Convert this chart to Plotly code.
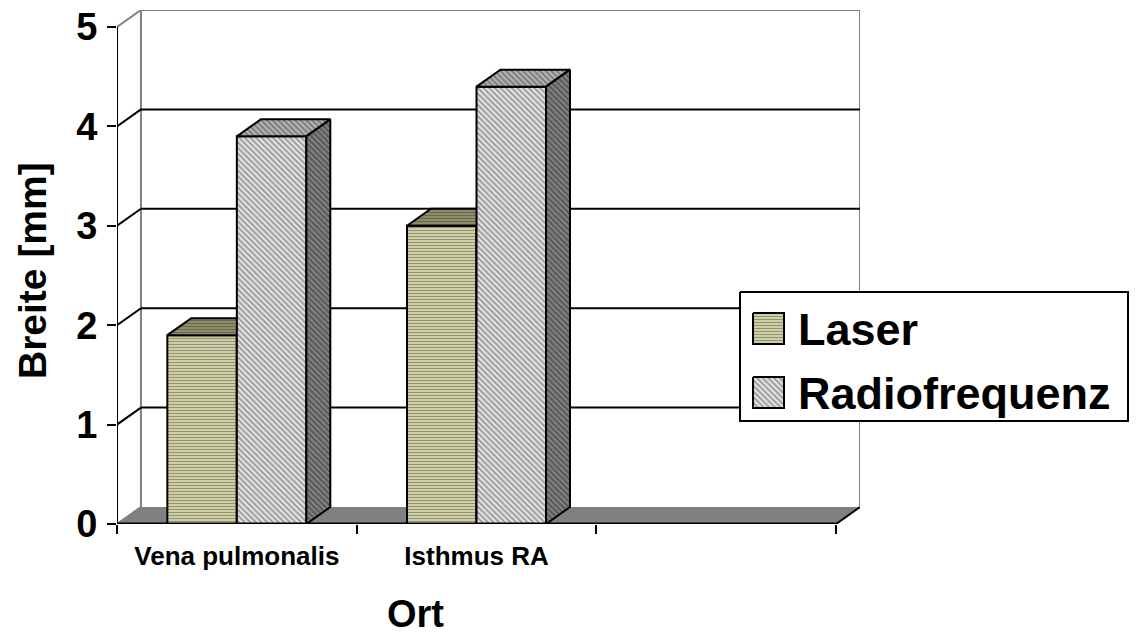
import plotly.graph_objects as go

# ---- data ----
categories = ["Vena pulmonalis", "Isthmus RA", ""]
laser = [1.9, 3.0, None]
radiofrequenz = [3.9, 4.4, None]
y_ticks = [0, 1, 2, 3, 4, 5]

# ---- 3D look (in axis units) ----
DX = 0.10      # depth offset along x
DY = 0.171     # depth offset along y
BAR_W = 0.29   # width of one column
YMAX = 5
NCAT = len(categories)

FONT = "Liberation Sans, Arial, sans-serif"

W, H = 1140, 638
PL, PR, PT, PB = 117, 860, 10, 524  # plot area in pixels

fig = go.Figure()


def poly(xs, ys, pattern, name, xaxis="x", yaxis="y", lw=2):
    fig.add_trace(go.Scatter(
        x=list(xs) + [xs[0]], y=list(ys) + [ys[0]],
        mode="lines", fill="toself",
        fillcolor=pattern["bgcolor"],
        fillpattern=pattern,
        line=dict(color="black", width=lw),
        hoverinfo="skip", showlegend=False, name=name,
        xaxis=xaxis, yaxis=yaxis,
    ))


def pat(shape, bg, fg, size=4, solidity=0.45):
    return dict(shape=shape, bgcolor=bg, fgcolor=fg, size=size,
                solidity=solidity, fillmode="overlay")


styles = {
    "Laser": dict(
        front=pat("-", "#e2e2b8", "#45452c", 3, 0.5),
        top=pat("-", "#a0a078", "#30301c", 3, 0.55),
        side=pat("-", "#8c8c6c", "#303020", 3, 0.55),
    ),
    "Radiofrequenz": dict(
        front=pat("\\", "#e8e8e8", "#505050", 4, 0.5),
        top=pat("\\", "#b8b8b8", "#404040", 4, 0.5),
        side=pat("\\", "#888888", "#282828", 4, 0.55),
    ),
}

series = [("Laser", laser, -BAR_W), ("Radiofrequenz", radiofrequenz, 0.0)]

# ---- walls, floor, gridlines (drawn below the columns) ----
shapes = []
gray = "#808080"
# floor
shapes.append(dict(type="path", xref="x", yref="y", layer="below",
                   path=f"M0,0 L{NCAT},0 L{NCAT + DX},{DY} L{DX},{DY} Z",
                   fillcolor=gray, line=dict(width=0)))
shapes.append(dict(type="line", xref="x", yref="y", layer="below",
                   x0=NCAT, y0=0, x1=NCAT + DX, y1=DY,
                   line=dict(color="black", width=2)))
# back wall frame
shapes.append(dict(type="line", xref="x", yref="y", layer="below",
                   x0=DX, y0=DY, x1=DX, y1=YMAX + DY, line=dict(color=gray, width=2)))
shapes.append(dict(type="line", xref="x", yref="y", layer="below",
                   x0=DX, y0=YMAX + DY, x1=NCAT + DX, y1=YMAX + DY, line=dict(color=gray, width=2)))
shapes.append(dict(type="line", xref="x", yref="y", layer="below",
                   x0=NCAT + DX, y0=DY, x1=NCAT + DX, y1=YMAX + DY, line=dict(color=gray, width=2)))
# gridlines on back wall + side wall diagonals
for k in y_ticks[1:]:
    col = gray if k == YMAX else "black"
    if k < YMAX:
        shapes.append(dict(type="line", xref="x", yref="y", layer="below",
                           x0=DX, y0=k + DY, x1=NCAT + DX, y1=k + DY,
                           line=dict(color="black", width=2)))
    shapes.append(dict(type="line", xref="x", yref="y", layer="below",
                       x0=0, y0=k, x1=DX, y1=k + DY, line=dict(color=col, width=2)))
shapes.append(dict(type="line", xref="x", yref="y", layer="below",
                   x0=0, y0=0, x1=DX, y1=DY, line=dict(color=gray, width=2)))
# front axis lines
shapes.append(dict(type="line", xref="x", yref="y", layer="above",
                   x0=0, y0=0, x1=0, y1=YMAX, line=dict(color="black", width=2)))
shapes.append(dict(type="line", xref="x", yref="y", layer="above",
                   x0=0, y0=0, x1=NCAT, y1=0, line=dict(color="black", width=3)))

# ---- columns: painter's order, front face, top, right side ----
for i in range(NCAT):
    center = i + 0.5
    for name, vals, off in series:
        v = vals[i]
        if v is None:
            continue
        st = styles[name]
        x0 = center + off
        x1 = x0 + BAR_W
        poly([x0, x1, x1, x0], [0, 0, v, v], st["front"], name)
        poly([x0, x1, x1 + DX, x0 + DX], [v, v, v + DY, v + DY], st["top"], name)
        poly([x1, x1 + DX, x1 + DX, x1], [0, DY, v + DY, v], st["side"], name)

# ---- legend (pixel-space overlay) ----
LX0, LY0, LX1, LY1 = 740, 292, 1128, 421
fig.add_trace(go.Scatter(
    x=[LX0, LX1, LX1, LX0, LX0], y=[LY0, LY0, LY1, LY1, LY0],
    mode="lines", fill="toself", fillcolor="white",
    line=dict(color="black", width=2), hoverinfo="skip",
    showlegend=False, xaxis="x2", yaxis="y2"))
legend_rows = [("Laser", 313, 344), ("Radiofrequenz", 377, 408)]
annotations = []
for name, ya, yb in legend_rows:
    poly([753, 784, 784, 753], [ya, ya, yb, yb], styles[name]["front"], name,
         xaxis="x2", yaxis="y2", lw=2)
    annotations.append(dict(
        xref="paper", yref="paper", x=796 / W, y=1 - ((ya + yb) / 2 + 1) / H,
        xanchor="left", yanchor="middle", showarrow=False, text=name,
        font=dict(family=FONT, size=45, color="black", weight="bold")))

# axis titles
annotations.append(dict(
    xref="paper", yref="paper", x=32 / W, y=1 - 271 / H, textangle=-90,
    xanchor="center", yanchor="middle", showarrow=False, text="Breite [mm]",
    font=dict(family=FONT, size=39, color="black", weight="bold")))
annotations.append(dict(
    xref="paper", yref="paper", x=415 / W, y=1 - 614 / H,
    xanchor="center", yanchor="middle", showarrow=False, text="Ort",
    font=dict(family=FONT, size=38, color="black", weight="bold")))

fig.update_layout(
    width=W, height=H,
    margin=dict(l=0, r=0, t=0, b=0, autoexpand=False),
    paper_bgcolor="white", plot_bgcolor="rgba(0,0,0,0)",
    showlegend=False,
    shapes=shapes, annotations=annotations,
    xaxis=dict(
        domain=[PL / W, PR / W], range=[0, NCAT + DX], automargin=False,
        showgrid=False, zeroline=False, showline=False,
        tickmode="array", tickvals=[i + 0.5 for i in range(NCAT)],
        ticktext=categories, ticks="", ticklabelstandoff=14,
        tickfont=dict(family=FONT, size=26, color="black", weight="bold"),
        minor=dict(tickmode="array", tickvals=list(range(NCAT + 1)), ticks="outside",
                   ticklen=9, tickwidth=2, tickcolor="black", showgrid=False),
        fixedrange=True,
    ),
    yaxis=dict(
        domain=[(H - PB) / H, (H - PT) / H], range=[0, YMAX + DY], automargin=False,
        showgrid=False, zeroline=False, showline=False,
        tickmode="array", tickvals=y_ticks, ticks="outside",
        ticklen=9, tickwidth=2, tickcolor="black", ticklabelstandoff=2,
        tickfont=dict(family=FONT, size=38, color="black", weight="bold"),
        fixedrange=True,
    ),
    xaxis2=dict(domain=[0, 1], range=[0, W], visible=False, anchor="y2", fixedrange=True),
    yaxis2=dict(domain=[0, 1], range=[H, 0], visible=False, anchor="x2", fixedrange=True),
)

fig.write_html("out.html")
